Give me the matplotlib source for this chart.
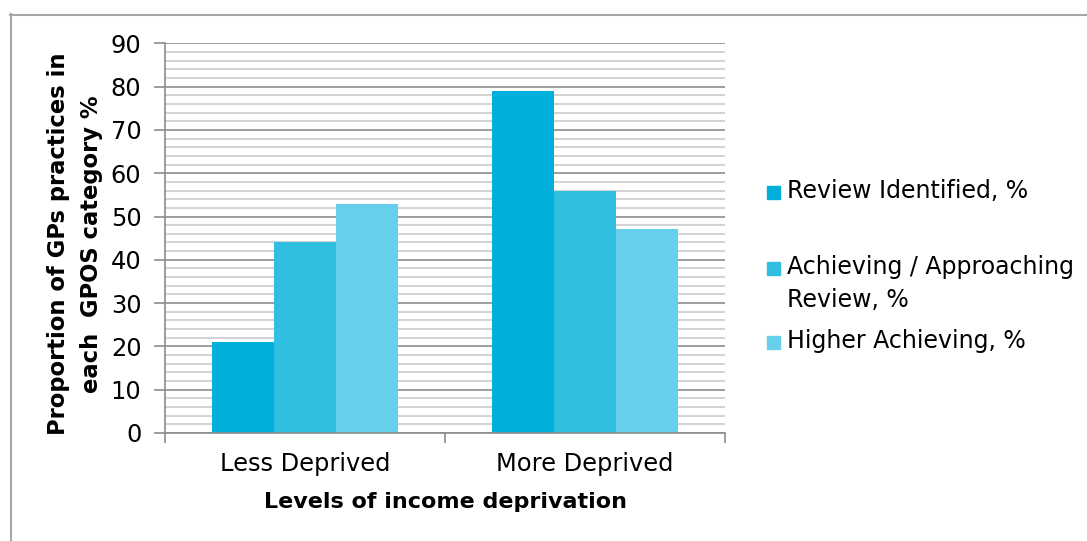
import numpy as np
import matplotlib
matplotlib.use("Agg")
import matplotlib.pyplot as plt
from matplotlib.patches import Rectangle
from matplotlib.lines import Line2D
from matplotlib.ticker import MultipleLocator, FixedLocator

# data
categories = ["Less Deprived", "More Deprived"]
series_names = ["Review Identified, %",
                "Achieving / Approaching\nReview, %",
                "Higher Achieving, %"]
review_identified = [21, 79]
achieving_approaching = [44, 56]
higher_achieving = [53, 47]
colors = ["#00B0DA", "#31BFE1", "#66CFEB"]

plt.rcParams['font.family'] = ['DejaVu Sans']

W, H = 1087, 541
fig = plt.figure(figsize=(W / 100, H / 100), dpi=100)

# outer chart border (left and top visible)
fig.add_artist(Line2D([10.5 / W, 10.5 / W], [0, 1 - 14 / H], color="#a6a6a6", lw=1.5))
fig.add_artist(Line2D([10 / W, 1], [1 - 14.5 / H, 1 - 14.5 / H], color="#a6a6a6", lw=1.5))

ax = fig.add_axes([165 / W, (H - 433) / H, 560 / W, 389.7 / H])

x = np.arange(len(categories))
width = 62 / 280
all_series = [review_identified, achieving_approaching, higher_achieving]
for i, (vals, col) in enumerate(zip(all_series, colors)):
    ax.bar(x + (i - 1) * width, vals, width=width, color=col, zorder=3)

ax.set_xlim(-0.5, 1.5)
ax.set_ylim(0, 90)

ax.yaxis.set_major_locator(MultipleLocator(10))
ax.yaxis.set_minor_locator(MultipleLocator(2))
ax.grid(which="minor", axis="y", color="#d4d4d4", lw=1.5, zorder=1)
ax.grid(which="major", axis="y", color="#8c8c8c", lw=1.2, zorder=2)

ax.set_xticks(x)
ax.set_xticklabels(categories, fontsize=17.4)
ax.xaxis.set_minor_locator(FixedLocator([-0.5, 0.5, 1.5]))
ax.tick_params(axis="x", which="major", length=0, pad=14)
ax.tick_params(axis="x", which="minor", length=7, color="#8c8c8c", width=1.2)
ax.tick_params(axis="y", which="major", length=8, color="#8c8c8c", width=1.2,
               labelsize=17.4, pad=9)
ax.tick_params(axis="y", which="minor", length=0)

for s in ["top", "right"]:
    ax.spines[s].set_visible(False)
for s in ["left", "bottom"]:
    ax.spines[s].set_color("#8c8c8c")
    ax.spines[s].set_linewidth(1.2)
    ax.spines[s].set_zorder(4)

ax.set_xlabel("Levels of income deprivation", fontsize=16, fontweight="bold", labelpad=11)
fig.text(75 / W, 1 - 244 / H, "Proportion of GPs practices in\neach  GPOS category %",
         rotation=90, ha="center", va="center", multialignment="center",
         fontsize=16.3, fontweight="bold", linespacing=1.6)

# legend drawn by hand to match Excel layout
legend_rows = [192, 268, 342]
for name, col, yc in zip(series_names, colors, legend_rows):
    fig.add_artist(Rectangle((767 / W, 1 - (yc + 6.5) / H), 13 / W, 13 / H,
                             color=col, transform=fig.transFigure))
    fig.text(787 / W, 1 - (yc - 13) / H, name, ha="left", va="top",
             fontsize=17, linespacing=1.45)

fig.savefig("out.png", dpi=100)
plt.close(fig)
